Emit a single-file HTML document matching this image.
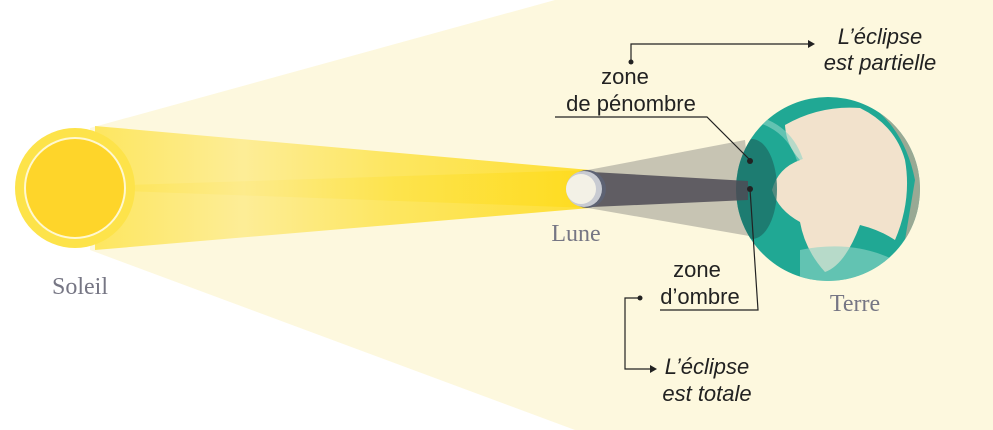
<!DOCTYPE html>
<html><head><meta charset="utf-8"><style>
body{margin:0;background:#fff;width:993px;height:430px;overflow:hidden;font-family:"Liberation Sans",sans-serif}
svg{display:block}
</style></head><body>
<svg width="993" height="430" viewBox="0 0 993 430">
<defs>
<linearGradient id="beam" x1="0" x2="1" y1="0" y2="0">
<stop offset="0" stop-color="#fde34a"/><stop offset="0.3" stop-color="#fdeb8a"/><stop offset="0.6" stop-color="#fde34a"/><stop offset="1" stop-color="#fedb1a"/>
</linearGradient>
<clipPath id="earthclip"><circle cx="828" cy="189" r="92"/></clipPath>
</defs>
<polygon points="90,128 555,0 993,0 993,430 575,430 90,250" fill="#fdf8de"/>
<polygon points="95,126 590,170 590,208 95,190" fill="url(#beam)" opacity="0.85"/>
<polygon points="95,250 590,208 590,170 95,186" fill="url(#beam)" opacity="0.85"/>
<g>
<circle cx="75" cy="188" r="60" fill="#fde34a"/>
<circle cx="75" cy="188" r="50" fill="#fed52a" stroke="#fff8d0" stroke-width="2"/>
</g>
<text x="80" y="294" font-size="24" fill="#767684" text-anchor="middle" font-family="Liberation Serif,serif">Soleil</text>
<polygon points="588,170 745,140 755,237 588,208" fill="#b9b6a8" opacity="0.8"/>
<g>
<circle cx="828" cy="189" r="92" fill="#20a894"/>
<g clip-path="url(#earthclip)">
<path d="M785,125 Q820,105 860,108 Q895,125 905,160 Q912,200 895,240 Q880,230 860,225 Q845,265 825,272 Q805,250 800,222 Q778,210 772,190 Q778,168 800,160 Q786,145 785,125Z" fill="#f2e2cc"/>
<path d="M870,105 Q905,130 915,180 L905,240 L930,240 L930,90Z" fill="#b8a994" opacity="0.8"/>
<path d="M800,250 Q850,240 890,258 L870,300 L800,290Z" fill="#8fd6c6" opacity="0.6"/>
<path d="M760,120 Q790,130 800,160" stroke="#8fd6c6" stroke-width="6" fill="none" opacity="0.6"/>
<ellipse cx="752" cy="189" rx="25" ry="50" fill="#1c6e66" opacity="0.75"/>
</g>
</g>
<polygon points="592,172 748,181 748,200 592,207" fill="#4d4b55" opacity="0.85"/>
<g>
<circle cx="587" cy="189" r="19" fill="#5d6273"/>
<circle cx="584" cy="189" r="18" fill="#c8cbd2"/>
<circle cx="581" cy="189" r="15" fill="#f3f1e6"/>
</g>
<text x="576" y="241" font-size="24" fill="#767684" text-anchor="middle" font-family="Liberation Serif,serif">Lune</text>
<text x="855" y="311" font-size="24" fill="#767684" text-anchor="middle" font-family="Liberation Serif,serif">Terre</text>
<g fill="#222" stroke="#222" stroke-width="1.2">
<text x="625" y="84" font-size="22" stroke="none" text-anchor="middle">zone</text>
<text x="631" y="111" font-size="22" stroke="none" text-anchor="middle">de pénombre</text>
<polyline points="555,117 707,117 750,160" fill="none"/>
<circle cx="750" cy="161" r="3" stroke="none"/>
<polyline points="631,62 631,44 808,44" fill="none"/>
<circle cx="631" cy="62" r="2.5" stroke="none"/>
<polygon points="808,40 815,44 808,48" stroke="none"/>
<text x="880" y="44" font-size="22" stroke="none" text-anchor="middle" font-style="italic">L’éclipse</text>
<text x="880" y="70" font-size="22" stroke="none" text-anchor="middle" font-style="italic">est partielle</text>
</g>
<g fill="#222" stroke="#222" stroke-width="1.2">
<text x="697" y="277" font-size="22" stroke="none" text-anchor="middle">zone</text>
<text x="700" y="304" font-size="22" stroke="none" text-anchor="middle">d’ombre</text>
<polyline points="660,310 758,310 750,189" fill="none"/>
<circle cx="750" cy="189" r="3" stroke="none"/>
<polyline points="640,298 625,298 625,369 650,369" fill="none"/>
<circle cx="640" cy="298" r="2.5" stroke="none"/>
<polygon points="650,365 657,369 650,373" stroke="none"/>
<text x="707" y="374" font-size="22" stroke="none" text-anchor="middle" font-style="italic">L’éclipse</text>
<text x="707" y="401" font-size="22" stroke="none" text-anchor="middle" font-style="italic">est totale</text>
</g>
</svg>
</body></html>
